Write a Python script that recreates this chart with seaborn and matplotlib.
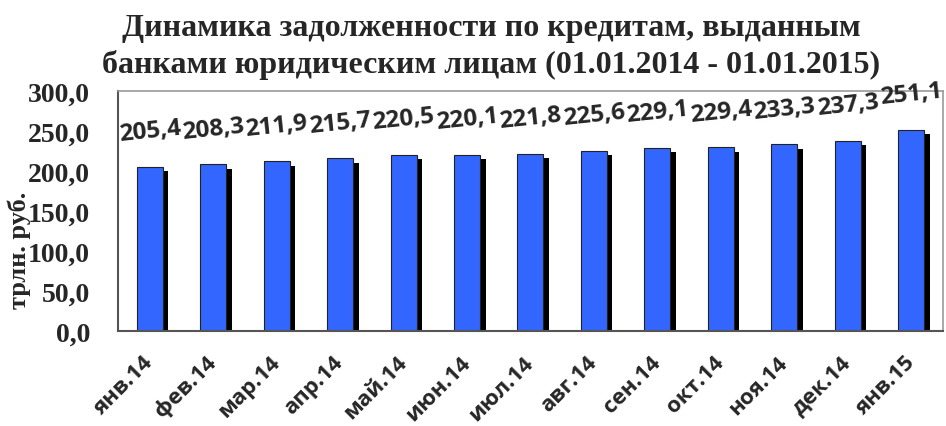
import matplotlib
matplotlib.use("Agg")
import matplotlib.pyplot as plt
import matplotlib.patheffects as pe
import matplotlib.transforms as mtrans
import seaborn as sns
import pandas as pd

months = ["янв.14", "фев.14", "мар.14", "апр.14", "май.14", "июн.14", "июл.14",
          "авг.14", "сен.14", "окт.14", "ноя.14", "дек.14", "янв.15"]
debt = [205.4, 208.3, 211.9, 215.7, 220.5, 220.1, 221.8,
        225.6, 229.1, 229.4, 233.3, 237.3, 251.1]
yticks = [0, 50, 100, 150, 200, 250, 300]

df = pd.DataFrame({"month": months, "debt": debt})

sns.set_style("white")
serif = ["Liberation Serif", "DejaVu Serif"]
sans = ["Open Sans", "DejaVu Sans"]

fig = plt.figure(figsize=(9.46, 4.27), dpi=100)
ax = fig.add_axes([0.1247, 0.2225, 0.872, 0.562])

sns.barplot(data=df, x="month", y="debt", color="#3366FF", saturation=1,
            width=0.41, edgecolor="#222222", linewidth=0.8, ax=ax)

# drop shadow like the Excel original
for p in ax.patches:
    p.set_path_effects([pe.SimplePatchShadow(offset=(4, -3), shadow_rgbFace="black", alpha=1),
                        pe.Normal()])

labels = [f"{v:.1f}".replace(".", ",") for v in debt]
ax.bar_label(ax.containers[0], labels=labels, padding=15, rotation=6,
             fontsize=17.5, fontweight="bold", family=sans)

ax.set_ylim(0, 300)
ax.set_yticks(yticks)
ax.set_yticklabels([f"{v:.1f}".replace(".", ",") for v in yticks],
                   fontsize=20, fontweight="bold", family=serif)
ax.set_xticks(range(len(months)))
ax.set_xticklabels(months, rotation=45, ha="right", va="center", rotation_mode="anchor",
                   fontsize=16, fontweight="bold", family=sans)
shift = mtrans.ScaledTranslation(11 / 100, 0, fig.dpi_scale_trans)
for t in ax.get_xticklabels():
    t.set_transform(t.get_transform() + shift)
ax.tick_params(axis="x", which="major", length=0, pad=20)
ax.set_xticks([i - 0.5 for i in range(len(months) + 1)], minor=True)
ax.tick_params(axis="x", which="minor", length=8, width=1.2, color="#666666", direction="out")
ax.tick_params(axis="y", length=8, width=1.2, color="#666666", direction="out", pad=12)
ax.set_xlim(-0.5, len(months) - 0.5)
ax.set_xlabel("")
ax.set_ylabel("трлн. руб.", fontsize=19, fontweight="bold", family=serif)
ax.yaxis.set_label_coords(-0.105, 0.34)

for side in ["left", "bottom"]:
    ax.spines[side].set_color("#555555")
    ax.spines[side].set_linewidth(1.5)
for side in ["top", "right"]:
    ax.spines[side].set_color("#999999")
    ax.spines[side].set_linewidth(1.2)
    ax.spines[side].set_visible(True)

fig.text(0.519, 0.934, "Динамика задолженности по кредитам, выданным",
         ha="center", va="center", fontsize=23, fontweight="bold", family=serif)
fig.text(0.519, 0.848, "банками юридическим лицам (01.01.2014 - 01.01.2015)",
         ha="center", va="center", fontsize=23, fontweight="bold", family=serif)

fig.savefig("out.png", dpi=100)
